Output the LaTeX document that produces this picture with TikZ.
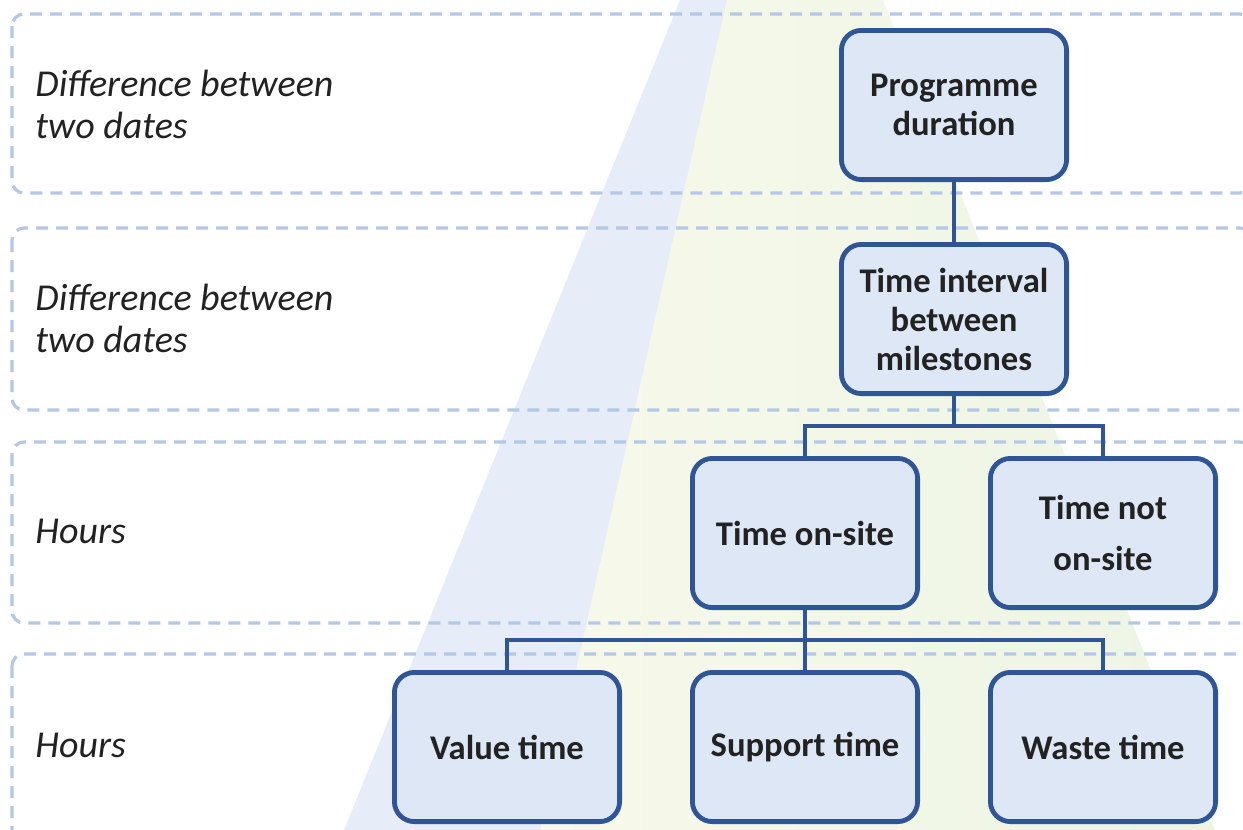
\documentclass[tikz,border=0pt]{standalone}
\usepackage{fontspec}
\setmainfont{Carlito}
\usetikzlibrary{positioning}

\definecolor{boxline}{HTML}{2F5597}
\definecolor{boxfill}{HTML}{DDE7F5}
\definecolor{bandline}{HTML}{B4C7E7}
\definecolor{coneblue}{HTML}{E6EDF8}
\definecolor{coneyellow}{HTML}{F7F9EA}
\definecolor{conegreen}{HTML}{EDF5E4}
\definecolor{labeltext}{HTML}{222222}

\begin{document}
\begin{tikzpicture}[
  x=0.5pt, y=-0.5pt,
  box/.style={draw=boxline, fill=boxfill, line width=2.4pt, rounded corners=10pt, minimum width=112.6pt, minimum height=74.6pt, align=center, text=labeltext, font=\fontsize{17.3}{19.5}\selectfont\bfseries},
  band/.style={draw=bandline, line width=1.6pt, dash pattern=on 6pt off 4pt, rounded corners=6pt},
  level/.style={anchor=west, align=left, inner sep=0pt, text=labeltext, font=\fontsize{19}{21}\selectfont\itshape},
  link/.style={draw=boxline, line width=2pt},
  node distance=30pt and 34pt
]
\useasboundingbox (0,0) rectangle (1243,830);
\clip (0,0) rectangle (1243,830);

% the two cones behind the tree
\fill[coneblue] (680,0) -- (344,830) -- (640,830) -- (780,0) -- cycle;
\shade[left color=coneyellow, right color=conegreen] (727,0) -- (540,830) -- (1215,830) -- (883,0) -- cycle;

% one dashed band per level
\draw[band] (12,14) rectangle (1252,193);
\draw[band] (12,228) rectangle (1252,410);
\draw[band] (12,442) rectangle (1252,623);
\draw[band] (12,654) rectangle (1252,880);

\node[level] (lvlone) at (35,104) {Difference between\\two dates};
\node[level] (lvltwo) at (35,318) {Difference between\\two dates};
\node[level] (lvlthree) at (35,531) {Hours};
\node[level] (lvlfour) at (35,745) {Hours};

\node[box] (prog) at (954,105) {Programme\\duration};
\node[box, below=of prog] (interval) {Time interval\\between\\milestones};
\node[box, below=of interval, xshift=-74.5pt] (onsite) {Time on-site};
\node[box, right=of onsite] (offsite) {Time not\\[6pt]on-site};
\node[box, below=of onsite] (support) {Support time};
\node[box, left=of support] (value) {Value time};
\node[box, right=of support] (waste) {Waste time};

\draw[link] (prog) -- (interval);
\draw[link] (interval.south) -- ++(0,30) -| (onsite.north);
\draw[link] (interval.south) -- ++(0,30) -| (offsite.north);
\draw[link] (onsite.south) -- ++(0,30) -| (value.north);
\draw[link] (onsite.south) -- (support.north);
\draw[link] (onsite.south) -- ++(0,30) -| (waste.north);
\end{tikzpicture}
\end{document}
